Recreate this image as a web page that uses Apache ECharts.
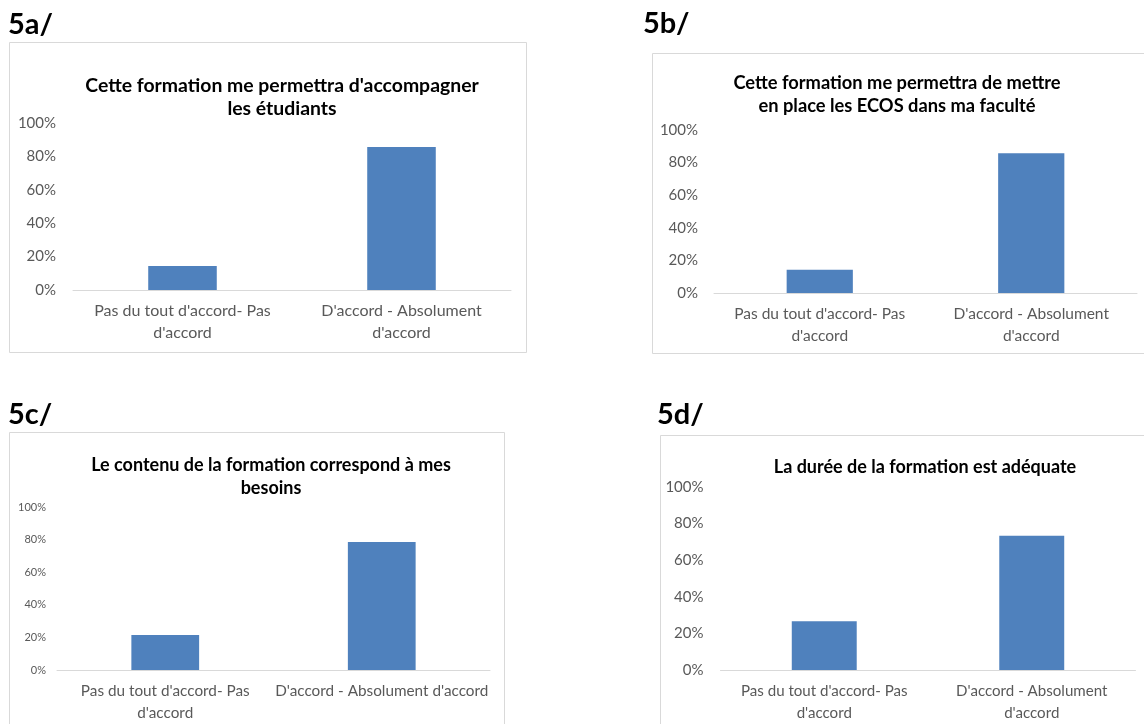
<!DOCTYPE html>
<html><head><meta charset="utf-8">
<script src="https://cdn.jsdelivr.net/npm/echarts@6/dist/echarts.min.js"></script>
<style>html,body{margin:0;padding:0;background:#fff}#c{width:1144px;height:724px}</style>
</head><body><div id="c"></div><script>
// ---- data ----
const categories = ["Pas du tout d'accord- Pas d'accord", "D'accord - Absolument d'accord"];
const panelLabels = ['5a/', '5b/', '5c/', '5d/'];
const chartTitles = [
  ["Cette formation me permettra d'accompagner", "les étudiants"],
  ["Cette formation me permettra de mettre", "en place les ECOS dans ma faculté"],
  ["Le contenu de la formation correspond à mes", "besoins"],
  ["La durée de la formation est adéquate"]
];
const values5a = [14.3, 85.7];
const values5b = [14.3, 85.7];
const values5c = [21.4, 78.6];
const values5d = [26.7, 73.3];
const yTickLabels = ['0%', '20%', '40%', '60%', '80%', '100%'];

// ---- layout ----
const FONT = 'Lato, "Noto Sans", sans-serif';
const panels = [
  { values: values5a, grid: {left: 73, top: 123, width: 438, height: 167}, box: [9.5, 42.5, 517, 310],
    label: [8, 25], title: [282, [86, 109]], titleFont: 19.4, xFont: 16, yFont: 15, yMargin: 17, wrapIdx: [0, 1] },
  { values: values5b, grid: {left: 714, top: 130, width: 423, height: 163}, box: [652.5, 53.5, 520, 300],
    label: [643, 24], title: [897, [83, 106]], titleFont: 18.3, xFont: 15.5, yFont: 15, yMargin: 16, wrapIdx: [0, 1] },
  { values: values5c, grid: {left: 57, top: 507, width: 433, height: 164}, box: [9.5, 432.5, 495, 320],
    label: [8, 415], title: [271, [465, 488]], titleFont: 18, xFont: 15.3, yFont: 11, yMargin: 11, wrapIdx: [0] },
  { values: values5d, grid: {left: 720.5, top: 487, width: 415, height: 183}, box: [660.5, 435.5, 520, 320],
    label: [657, 415], title: [925, [467]], titleFont: 18, xFont: 15.1, yFont: 15, yMargin: 17, wrapIdx: [0, 1] }
];

const graphic = [];
panels.forEach((p, i) => {
  graphic.push({ type: 'rect', silent: true, z: -1,
    shape: {x: p.box[0], y: p.box[1], width: p.box[2], height: p.box[3]},
    style: {fill: '#fff', stroke: '#d9d9d9', lineWidth: 1} });
  graphic.push({ type: 'text', silent: true,
    style: {text: panelLabels[i], x: p.label[0], y: p.label[1], font: 'bold 29px ' + FONT,
      fill: '#000', align: 'left', verticalAlign: 'middle'} });
  chartTitles[i].forEach((line, j) => {
    graphic.push({ type: 'text', silent: true,
      style: {text: line, x: p.title[0], y: p.title[1][j], font: 'bold ' + p.titleFont + 'px ' + FONT,
        fill: '#000', align: 'center', verticalAlign: 'middle'} });
  });
});

const option = {
  animation: false,
  backgroundColor: '#fff',
  graphic: graphic,
  grid: panels.map(p => Object.assign({containLabel: false}, p.grid)),
  xAxis: panels.map((p, i) => ({
    type: 'category', gridIndex: i, data: categories,
    axisLine: {lineStyle: {color: '#d9d9d9', width: 1}},
    axisTick: {show: false},
    axisLabel: {
      interval: 0, color: '#595959', fontFamily: FONT, fontSize: p.xFont, lineHeight: 22, margin: 10,
      formatter: (v, idx) => {
        if (p.wrapIdx.indexOf(idx) < 0) return v;
        const k = v.lastIndexOf(' ');
        return v.slice(0, k) + '\n' + v.slice(k + 1);
      }
    }
  })),
  yAxis: panels.map((p, i) => ({
    type: 'value', gridIndex: i, min: 0, max: 100, interval: 20,
    axisLine: {show: false}, axisTick: {show: false}, splitLine: {show: false},
    axisLabel: {color: '#595959', fontFamily: FONT, fontSize: p.yFont, margin: p.yMargin,
      formatter: v => yTickLabels[Math.round(v / 20)]}
  })),
  series: panels.map((p, i) => ({
    type: 'bar', xAxisIndex: i, yAxisIndex: i, data: p.values,
    barWidth: '31.3%', itemStyle: {color: '#4F81BD'}, silent: true
  }))
};
const chart = echarts.init(document.getElementById('c'), null, {renderer: 'canvas'});
chart.setOption(option);
</script></body></html>
